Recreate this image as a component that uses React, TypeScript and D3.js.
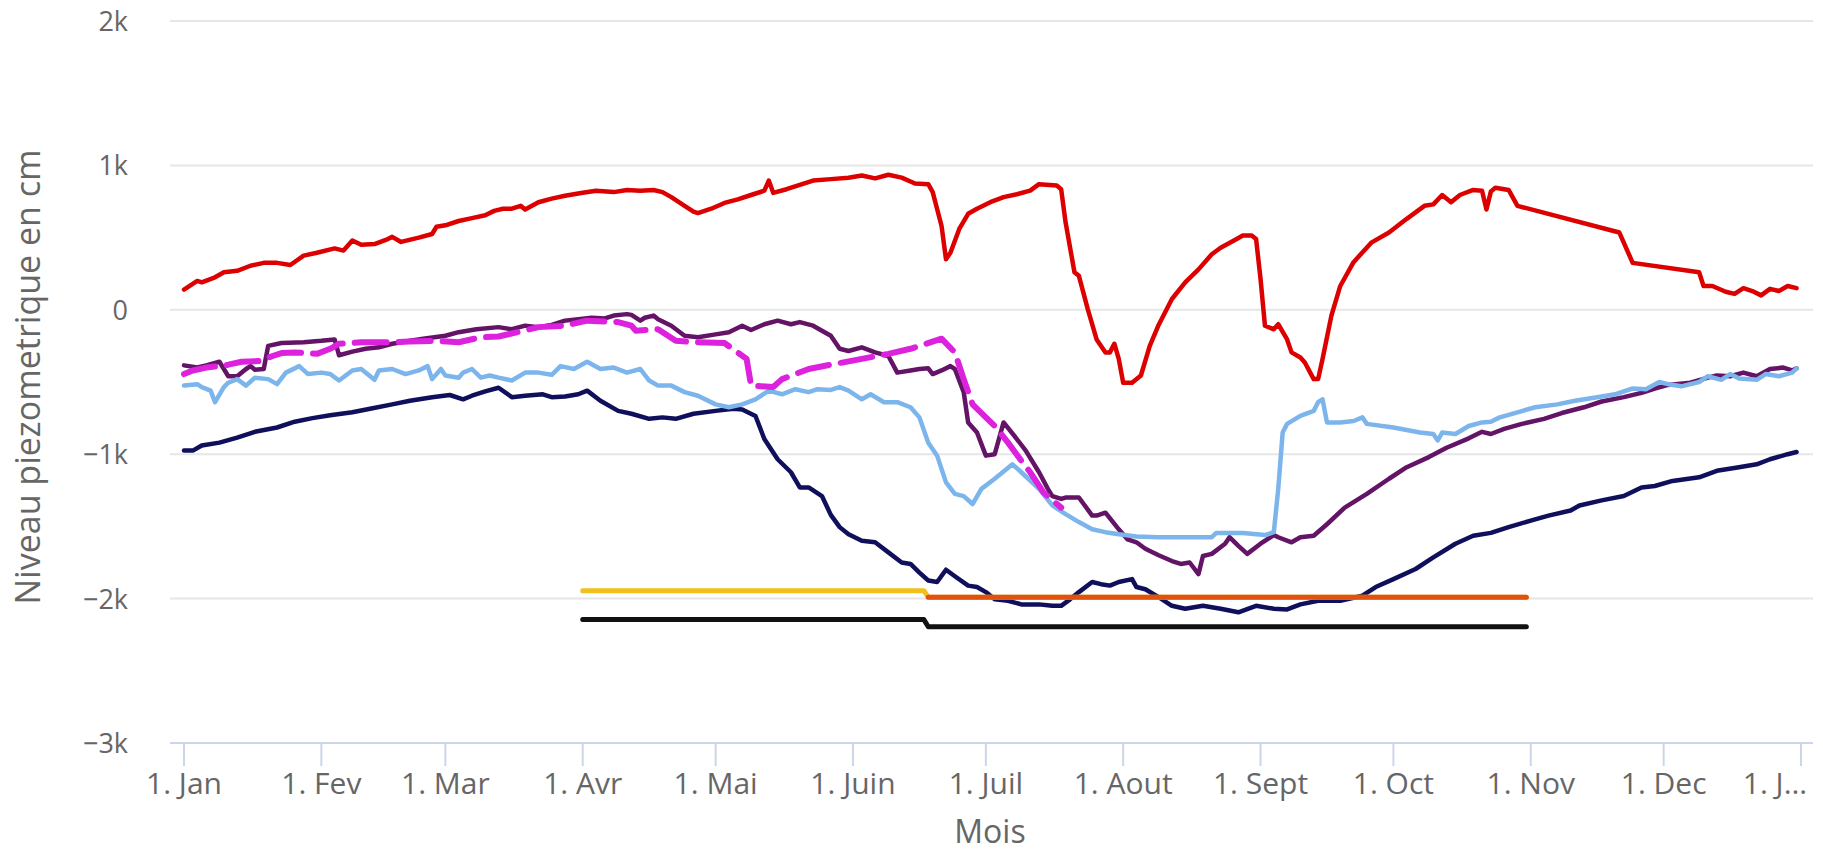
import * as d3 from 'd3';

// jour de l'année (0 = 1er janvier), niveau en cm
const rouge: [number, number][] = [
  [0, 140], [3, 200], [4, 190], [7, 225], [9, 260], [12, 270], [15, 305], [18, 325], [21, 325], [24, 310],
  [27, 375], [30, 395], [34, 425], [36, 410], [38, 480], [40, 450], [43, 455], [46, 490], [47, 505], [49, 470],
  [53, 500], [56, 525], [57, 575], [59, 585], [62, 615], [65, 635], [68, 655], [70, 685], [72, 700], [74, 700],
  [76, 720], [77, 695], [80, 745], [83, 770], [86, 790], [90, 810], [93, 825], [97, 815], [100, 830], [103, 825],
  [106, 830], [108, 815], [110, 780], [113, 720], [115, 680], [116, 670], [119, 700], [122, 740], [125, 765],
  [128, 795], [131, 825], [132, 895], [133, 810], [136, 835], [139, 865], [142, 895], [146, 905], [150, 915],
  [153, 930], [156, 910], [159, 935], [162, 915], [165, 875], [168, 870], [169, 815], [171, 580], [172, 350],
  [173, 395], [175, 560], [177, 665], [179, 700], [182, 745], [185, 780], [188, 800], [191, 825], [193, 870],
  [197, 860], [198, 835], [199, 605], [201, 260], [202, 235], [204, 5], [206, -205], [208, -295], [209, -295],
  [210, -235], [211, -340], [212, -505], [214, -505], [216, -455], [218, -250], [220, -105], [223, 75], [226, 190],
  [229, 280], [232, 385], [234, 430], [237, 480], [239, 515], [241, 515], [242, 490], [243, 215], [244, -110],
  [246, -135], [247, -100], [249, -205], [250, -295], [252, -330], [253, -365], [255, -480], [256, -480],
  [257, -340], [259, -40], [261, 165], [264, 330], [268, 465], [272, 535], [276, 630], [280, 720], [282, 730],
  [284, 795], [286, 745], [288, 795], [291, 830], [293, 825], [294, 695], [295, 820], [296, 845], [299, 830],
  [301, 720], [324, 535], [327, 325], [342, 260], [343, 165], [345, 165], [348, 125], [350, 110], [352, 150],
  [354, 130], [356, 100], [358, 145], [360, 130], [362, 165], [364, 150],
];

const marine: [number, number][] = [
  [0, -975], [2, -975], [4, -940], [8, -920], [12, -885], [16, -845], [21, -815], [25, -775], [29, -750],
  [33, -730], [38, -710], [42, -685], [47, -655], [51, -630], [56, -605], [60, -590], [63, -620], [65, -595],
  [68, -565], [71, -540], [74, -605], [77, -595], [81, -585], [83, -605], [86, -600], [89, -585], [91, -560],
  [94, -630], [98, -700], [101, -720], [105, -755], [108, -745], [111, -755], [115, -720], [120, -700],
  [124, -685], [126, -690], [129, -735], [131, -895], [134, -1035], [137, -1125], [139, -1230], [141, -1230],
  [144, -1290], [146, -1420], [148, -1505], [150, -1555], [153, -1600], [156, -1610], [159, -1680], [162, -1750],
  [164, -1760], [166, -1820], [168, -1875], [170, -1885], [172, -1800], [174, -1845], [177, -1910], [179, -1920],
  [181, -1955], [183, -2005], [186, -2015], [189, -2040], [193, -2040], [196, -2050], [198, -2050], [200, -2005],
  [202, -1955], [205, -1885], [207, -1900], [209, -1910], [211, -1885], [214, -1865], [215, -1920], [217, -1935],
  [220, -1990], [223, -2050], [226, -2070], [230, -2050], [234, -2070], [238, -2095], [242, -2050], [246, -2070],
  [249, -2075], [252, -2040], [256, -2015], [261, -2015], [266, -1980], [269, -1920], [273, -1865], [278, -1795],
  [282, -1715], [287, -1620], [291, -1565], [295, -1545], [299, -1505], [304, -1460], [308, -1425], [313, -1390],
  [315, -1355], [320, -1320], [325, -1290], [329, -1230], [332, -1220], [336, -1185], [342, -1160], [346, -1115],
  [351, -1090], [355, -1070], [358, -1035], [362, -1000], [364, -985],
];

const bleuClair: [number, number][] = [
  [0, -525], [3, -515], [4, -535], [6, -560], [7, -640], [9, -535], [10, -505], [12, -480], [14, -525],
  [16, -470], [19, -480], [21, -515], [23, -435], [26, -390], [28, -445], [31, -435], [33, -445], [35, -490],
  [38, -420], [40, -410], [43, -485], [44, -420], [47, -410], [50, -445], [53, -420], [55, -390], [56, -480],
  [58, -410], [59, -455], [62, -470], [63, -435], [65, -410], [67, -470], [69, -455], [71, -470], [74, -490],
  [77, -435], [80, -435], [83, -450], [85, -390], [88, -410], [91, -360], [94, -410], [97, -400], [100, -435],
  [103, -410], [105, -490], [107, -525], [110, -525], [113, -570], [116, -595], [120, -655], [123, -675],
  [126, -655], [129, -620], [132, -560], [135, -585], [138, -550], [141, -570], [143, -550], [146, -555],
  [148, -535], [150, -560], [153, -620], [155, -585], [158, -640], [161, -640], [164, -675], [166, -745],
  [168, -920], [170, -1010], [172, -1195], [174, -1275], [176, -1290], [178, -1345], [180, -1240], [183, -1170],
  [187, -1070], [189, -1125], [193, -1240], [196, -1355], [199, -1415], [202, -1470], [205, -1520], [208, -1540],
  [211, -1555], [215, -1570], [220, -1575], [226, -1575], [232, -1575], [233, -1545], [239, -1545], [244, -1560],
  [246, -1540], [247, -1240], [248, -850], [249, -790], [252, -735], [255, -700], [256, -640], [257, -620],
  [258, -780], [261, -780], [264, -770], [266, -745], [267, -790], [273, -815], [279, -850], [282, -860],
  [283, -905], [284, -850], [287, -860], [290, -805], [293, -780], [295, -775], [297, -745], [301, -710],
  [305, -675], [310, -655], [314, -630], [319, -605], [323, -585], [327, -545], [330, -550], [333, -500],
  [335, -515], [338, -530], [342, -500], [344, -460], [347, -485], [349, -445], [351, -475], [355, -485],
  [357, -445], [360, -460], [363, -435], [364, -405],
];

const violet: [number, number][] = [
  [0, -385], [3, -400], [5, -385], [8, -360], [9, -410], [10, -460], [12, -460], [14, -410], [15, -390],
  [16, -415], [18, -410], [19, -250], [22, -230], [27, -225], [31, -215], [34, -205], [35, -315], [38, -290],
  [41, -270], [44, -260], [47, -235], [50, -220], [54, -200], [59, -180], [62, -155], [66, -135], [71, -120],
  [74, -135], [77, -110], [80, -120], [83, -105], [86, -75], [89, -65], [92, -55], [95, -60], [97, -40],
  [100, -30], [101, -35], [103, -75], [104, -55], [106, -40], [107, -65], [110, -110], [113, -180], [116, -190],
  [120, -170], [123, -155], [126, -110], [128, -140], [131, -100], [134, -75], [137, -100], [139, -85],
  [142, -110], [144, -145], [146, -180], [148, -270], [150, -285], [153, -260], [156, -295], [159, -320],
  [161, -435], [164, -420], [166, -410], [168, -405], [169, -445], [171, -420], [173, -390], [174, -410],
  [176, -570], [177, -780], [179, -850], [181, -1010], [183, -1000], [185, -780], [188, -895], [190, -975],
  [193, -1125], [195, -1240], [196, -1290], [198, -1310], [199, -1300], [202, -1300], [205, -1425], [206, -1425],
  [208, -1405], [211, -1520], [213, -1590], [215, -1610], [217, -1655], [220, -1700], [223, -1740], [225, -1760],
  [227, -1750], [229, -1830], [230, -1705], [232, -1690], [235, -1620], [236, -1575], [238, -1635], [240, -1690],
  [243, -1620], [246, -1560], [247, -1575], [250, -1610], [252, -1575], [255, -1565], [258, -1485], [262, -1370],
  [267, -1275], [272, -1170], [276, -1090], [281, -1020], [285, -955], [290, -890], [293, -845], [295, -860],
  [298, -825], [302, -790], [307, -755], [311, -715], [316, -675], [320, -635], [325, -605], [329, -575],
  [332, -545], [335, -520], [340, -505], [344, -470], [346, -455], [349, -460], [352, -435], [355, -460],
  [358, -410], [361, -400], [363, -420], [364, -405],
];

const magenta: [number, number][] = [
  [0, -445], [2, -420], [5, -400], [8, -390], [10, -380], [13, -360], [17, -355], [20, -320], [22, -300],
  [25, -295], [30, -305], [33, -270], [35, -235], [40, -225], [46, -225], [51, -220], [57, -215], [62, -225],
  [67, -190], [71, -185], [76, -150], [80, -120], [86, -110], [91, -75], [98, -85], [101, -110], [102, -145],
  [107, -135], [111, -215], [116, -225], [122, -230], [127, -340], [128, -525], [133, -535], [135, -480],
  [141, -410], [146, -380], [153, -340], [159, -305], [164, -270], [171, -200], [174, -295], [176, -480],
  [178, -655], [181, -745], [183, -805], [186, -920], [189, -1045], [191, -1125], [194, -1265], [198, -1370],
];

const seuilJaune: [number, number][] = [[90, -1945], [167, -1945], [168, -1990], [303, -1990]];
const seuilOrange: [number, number][] = [[168, -1990], [303, -1990]];
const seuilNoir: [number, number][] = [[90, -2145], [167, -2145], [168, -2195], [303, -2195]];

const moisLabels = ['1. Jan', '1. Fev', '1. Mar', '1. Avr', '1. Mai', '1. Juin', '1. Juil', '1. Aout',
  '1. Sept', '1. Oct', '1. Nov', '1. Dec', '1. J…'];
const yTicks = [2000, 1000, 0, -1000, -2000, -3000];

const series = [
  { data: rouge, color: '#dc0000', width: 4.5, dash: '' },
  { data: marine, color: '#0f0f5c', width: 4.5, dash: '' },
  { data: violet, color: '#631466', width: 4.5, dash: '' },
  { data: bleuClair, color: '#7cb5ec', width: 4.5, dash: '' },
  { data: magenta, color: '#dd22dd', width: 6, dash: '32 12' },
  { data: seuilJaune, color: '#f2c01d', width: 5, dash: '' },
  { data: seuilNoir, color: '#111111', width: 5, dash: '' },
  { data: seuilOrange, color: '#e0520f', width: 5, dash: '' },
];

const W = 1823;
const H = 851;
const plotLeft = 170;
const plotRight = 1813;
const font = '"Open Sans", sans-serif';

const start = new Date(2019, 0, 1);
const toDate = (d: number) => d3.timeDay.offset(start, d);

export default function App() {
  const x = d3.scaleTime().domain([start, new Date(2020, 0, 1)]).range([184, 1801]);
  const y = d3.scaleLinear().domain([-3000, 2000]).range([743, 21]);
  const line = d3
    .line<[number, number]>()
    .x((d) => x(toDate(d[0])))
    .y((d) => y(d[1]));

  const months = d3.timeMonth.range(start, d3.timeDay.offset(new Date(2020, 0, 1), 1));
  const fmtY = (v: number) => (v === 0 ? '0' : `${v < 0 ? '−' : ''}${Math.abs(v) / 1000}k`);

  return (
    <svg width={W} height={H} style={{ position: 'absolute', left: 0, top: 0, background: '#fff' }}>
      {yTicks.map((t) => (
        <g key={t}>
          {t !== -3000 && (
            <line x1={plotLeft} x2={plotRight} y1={y(t)} y2={y(t)} stroke="#e6e6e6" strokeWidth={2} />
          )}
          <text x={128} y={y(t) + 10} textAnchor="end" fontFamily={font} fontSize={27} fill="#666">
            {fmtY(t)}
          </text>
        </g>
      ))}
      <line x1={plotLeft} x2={plotRight} y1={y(-3000)} y2={y(-3000)} stroke="#ccd6eb" strokeWidth={2} />
      {months.map((m, i) => {
        const last = i === months.length - 1;
        return (
          <g key={i}>
            <line x1={x(m)} x2={x(m)} y1={y(-3000)} y2={y(-3000) + 23} stroke="#ccd6eb" strokeWidth={2} />
            <text
              x={last ? 1807 : x(m)}
              y={794}
              textAnchor={last ? 'end' : 'middle'}
              fontFamily={font}
              fontSize={30}
              fill="#666"
            >
              {moisLabels[i]}
            </text>
          </g>
        );
      })}
      <text
        transform={`translate(31, 377) rotate(-90)`}
        textAnchor="middle"
        dominantBaseline="middle"
        fontFamily={font}
        fontSize={34}
        fill="#666"
      >
        Niveau piezometrique en cm
      </text>
      <text x={990} y={843} textAnchor="middle" fontFamily={font} fontSize={32} fill="#666">
        Mois
      </text>
      {series.map((s, i) => (
        <path
          key={i}
          d={line(s.data) ?? ''}
          fill="none"
          stroke={s.color}
          strokeWidth={s.width}
          strokeDasharray={s.dash || undefined}
          strokeLinejoin="round"
          strokeLinecap="round"
        />
      ))}
    </svg>
  );
}
